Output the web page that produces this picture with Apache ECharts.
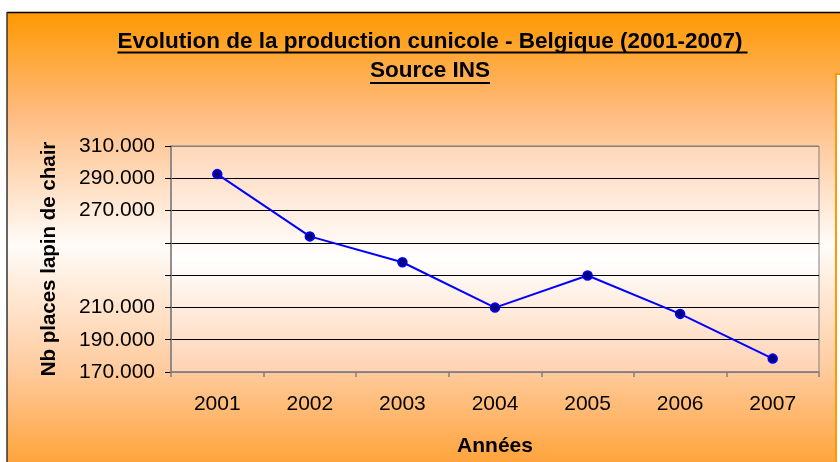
<!DOCTYPE html>
<html>
<head>
<meta charset="utf-8">
<script src="https://cdn.jsdelivr.net/npm/echarts@6/dist/echarts.min.js"></script>
<style>html,body{margin:0;padding:0;background:#fff;}#c{width:840px;height:462px;}</style>
</head>
<body>
<div id="c"></div>
<script>
// ---- data ----
const titleLine1 = 'Evolution de la production cunicole - Belgique (2001-2007)';
const titleLine2 = 'Source INS';
const yAxisTitle = 'Nb places lapin de chair';
const xAxisTitle = 'Années';
const years = ['2001', '2002', '2003', '2004', '2005', '2006', '2007'];
const places = [292600, 254000, 238000, 209900, 229800, 206000, 178300];
const yMin = 170000, yMax = 310000, yStep = 20000;
const hiddenTickLabels = [230000, 250000];

const FONT = '"Liberation Sans", Arial, sans-serif';
function fmt(v) {
  if (hiddenTickLabels.indexOf(v) >= 0) return '';
  return String(v).replace(/\B(?=(\d{3})+(?!\d))/g, '.');
}
function measure(txt, font) {
  const cv = document.createElement('canvas').getContext('2d');
  cv.font = font;
  return cv.measureText(txt).width;
}
const tFont = 'bold 22.5px ' + FONT;
const w1 = measure(titleLine1, tFont);
const w2 = measure(titleLine2, tFont);
const cx = 430;

const chart = echarts.init(document.getElementById('c'), null, {renderer: 'canvas'});
const bg = new echarts.graphic.LinearGradient(0, 0, 0, 1, [
  {offset: 0.026, color: '#FF9900'},
  {offset: 0.25, color: '#FFBC82'},
  {offset: 0.53, color: '#FFFCF9'},
  {offset: 0.8, color: '#FFCB9E'},
  {offset: 1, color: '#FFA43C'}
]);
const plotBg = new echarts.graphic.LinearGradient(0, 0, 0, 1, [
  {offset: 0, color: '#FFD6B8'},
  {offset: 0.5, color: '#FFFFFF'},
  {offset: 1, color: '#FFD2B2'}
]);

chart.setOption({
  backgroundColor: bg,
  animation: false,
  grid: {left: 171, right: 21, top: 146, bottom: 90, show: true,
         backgroundColor: plotBg, borderColor: '#808080', borderWidth: 1},
  graphic: [
    {type: 'rect', shape: {x: 0, y: 0, width: 840, height: 12}, style: {fill: '#fff'}, silent: true},
    {type: 'rect', shape: {x: 0, y: 0, width: 7, height: 462}, style: {fill: '#fff'}, silent: true},
    {type: 'line', shape: {x1: 7, y1: 12.5, x2: 840, y2: 12.5}, style: {stroke: '#000', lineWidth: 1.5}},
    {type: 'line', shape: {x1: 7, y1: 12, x2: 7, y2: 462}, style: {stroke: '#333', lineWidth: 1.5}},
    {type: 'rect', shape: {x: 836, y: 74, width: 30, height: 420}, style: {fill: '#fff', stroke: '#FF9900', lineWidth: 2}},
    {type: 'text', x: cx, y: 42, style: {text: titleLine1, font: tFont, fill: '#000', align: 'center', verticalAlign: 'middle'}},
    {type: 'text', x: cx, y: 71, style: {text: titleLine2, font: tFont, fill: '#000', align: 'center', verticalAlign: 'middle'}},
    {type: 'line', shape: {x1: cx - w1 / 2, y1: 52.5, x2: cx + w1 / 2 + 5, y2: 52.5}, style: {stroke: '#000', lineWidth: 2}},
    {type: 'line', shape: {x1: cx - w2 / 2, y1: 83, x2: cx + w2 / 2, y2: 83}, style: {stroke: '#000', lineWidth: 2}}
  ],
  xAxis: {
    type: 'category', data: years, boundaryGap: true,
    name: xAxisTitle, nameLocation: 'middle', nameGap: 64,
    nameTextStyle: {fontFamily: FONT, fontWeight: 'bold', fontSize: 21, color: '#000'},
    axisLine: {show: true, lineStyle: {color: '#808080', width: 1.5}},
    axisTick: {show: true, alignWithLabel: false, length: 5, lineStyle: {color: '#808080', width: 1.5}},
    axisLabel: {fontFamily: FONT, fontSize: 21, color: '#000', margin: 22},
    splitLine: {show: false}
  },
  yAxis: {
    type: 'value', min: yMin, max: yMax, interval: yStep,
    name: yAxisTitle, nameLocation: 'middle', nameGap: 111, nameRotate: 90,
    nameTextStyle: {fontFamily: FONT, fontWeight: 'bold', fontSize: 20.5, color: '#000'},
    axisLine: {show: true, lineStyle: {color: '#808080', width: 1.5}},
    axisTick: {show: true, length: 6, lineStyle: {color: '#000', width: 1}},
    axisLabel: {fontFamily: FONT, fontSize: 21, color: '#000', margin: 16, formatter: fmt},
    splitLine: {show: true, lineStyle: {color: ['#808080', '#000', '#000', '#000', '#000', '#000', '#000', '#808080'], width: 1}}
  },
  series: [{
    type: 'line', data: places,
    symbol: 'circle', symbolSize: 9,
    lineStyle: {color: '#0000FF', width: 2},
    itemStyle: {color: '#000080', borderColor: '#0000FF', borderWidth: 1.5}
  }]
});
</script>
</body>
</html>
